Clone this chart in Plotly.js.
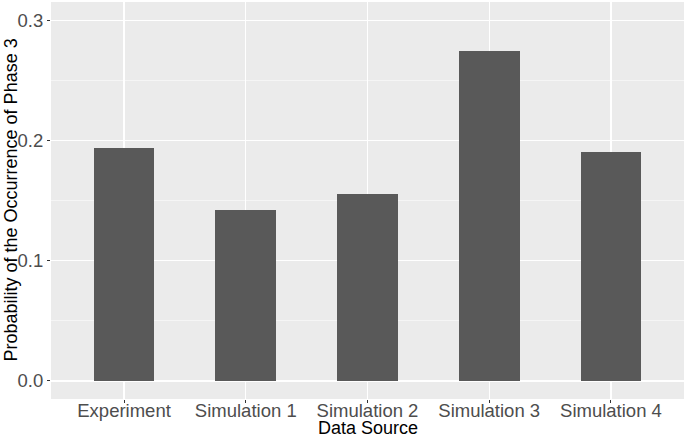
<!DOCTYPE html>
<html><head><meta charset="utf-8">
<script src="https://cdn.plot.ly/plotly-3.0.1.min.js"></script>
<style>body{margin:0;padding:0;}#chart{width:685px;height:438px;}</style>
</head><body><div id="chart"></div>
<script>
const categories = ["Experiment", "Simulation 1", "Simulation 2", "Simulation 3", "Simulation 4"];
const probabilities = [0.1937, 0.142, 0.1554, 0.2743, 0.1904];
const yTickVals = [0.0, 0.1, 0.2, 0.3];
const yTickText = ["0.0", "0.1", "0.2", "0.3"];

const trace = {
  type: 'bar',
  x: categories,
  y: probabilities,
  width: 0.5,
  marker: {color: '#595959', line: {width: 0}},
  hoverinfo: 'x+y'
};
const layout = {
  width: 685, height: 438,
  margin: {l: 51, r: 1, t: 2, b: 39},
  paper_bgcolor: 'white',
  plot_bgcolor: '#ebebeb',
  font: {family: 'Liberation Sans, Arial, sans-serif', size: 18, color: '#4d4d4d'},
  showlegend: false,
  bargap: 0,
  xaxis: {
    type: 'category',
    range: [-0.6, 4.6],
    showgrid: true, gridcolor: 'white', gridwidth: 1.1,
    zeroline: false, showline: false,
    ticks: 'outside', ticklen: 3, tickcolor: '#333333', tickwidth: 1,
    ticklabelstandoff: -8,
    tickfont: {size: 18.5, color: '#4d4d4d'}
  },
  yaxis: {
    range: [-0.015, 0.315],
    tickvals: yTickVals, ticktext: yTickText,
    showgrid: true, gridcolor: 'white', gridwidth: 1.1,
    minor: {dtick: 0.05, tick0: 0, showgrid: true, gridcolor: 'white', gridwidth: 0.5, ticks: ''},
    zeroline: false, showline: false,
    ticks: 'outside', ticklen: 3, tickcolor: '#333333', tickwidth: 1,
    tickfont: {size: 18.5, color: '#4d4d4d'}
  },
  annotations: [
    {text: 'Data Source', xref: 'paper', yref: 'paper', x: 0.5, y: 0, yshift: -29,
     xanchor: 'center', yanchor: 'middle', showarrow: false, borderpad: 0,
     font: {size: 18, color: '#000000'}},
    {text: 'Probability of the Occurrence of Phase 3', xref: 'paper', yref: 'paper',
     x: 0, y: 0.5, xshift: -41, xanchor: 'center', yanchor: 'middle', textangle: -90,
     showarrow: false, font: {size: 18, color: '#000000'}}
  ]
};
Plotly.newPlot('chart', [trace], layout, {displayModeBar: false, staticPlot: true});
</script></body></html>
